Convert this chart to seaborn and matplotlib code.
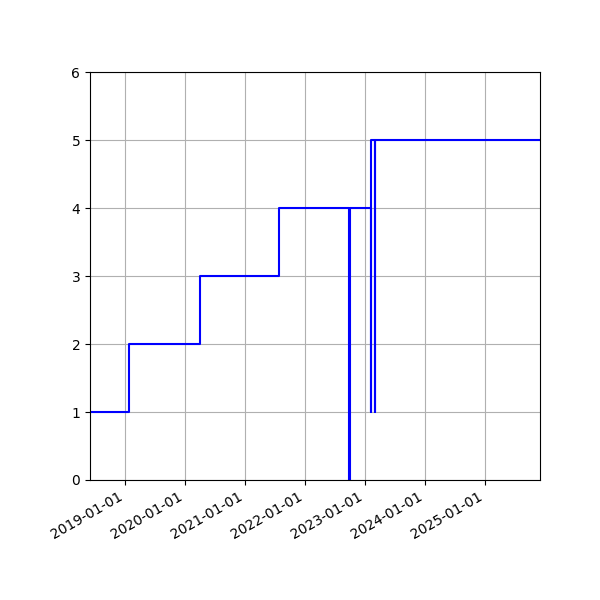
import pandas as pd
import seaborn as sns
import matplotlib
matplotlib.use('Agg')
import matplotlib.pyplot as plt
import matplotlib.dates as mdates

# step series (steps-post: value holds until next date)
dates = ['2018-06-01', '2019-01-27', '2020-04-01', '2021-07-26',
         '2022-09-26', '2022-09-29', '2023-02-04', '2023-02-06',
         '2023-03-01', '2023-03-03', '2025-12-01']
values = [1, 2, 3, 4, 0, 4, 1, 5, 1, 5, 5]

df = pd.DataFrame({'date': pd.to_datetime(dates), 'value': values})

fig, ax = plt.subplots(figsize=(6, 6), dpi=100)
sns.lineplot(data=df, x='date', y='value', ax=ax, color='blue',
             drawstyle='steps-post', estimator=None, linewidth=1.5)

ax.set_xlim(pd.Timestamp('2018-06-01'), pd.Timestamp('2025-12-01'))
ax.set_ylim(0, 6)
ax.xaxis.set_major_locator(mdates.YearLocator())
ax.xaxis.set_major_formatter(mdates.DateFormatter('%Y-%m-%d'))
ax.set_xlabel('')
ax.set_ylabel('')
ax.grid(True)

fig.autofmt_xdate()
fig.subplots_adjust(left=0.15, right=0.9, top=0.88, bottom=0.2)
fig.savefig('out.png')
print('Saved out.png')
